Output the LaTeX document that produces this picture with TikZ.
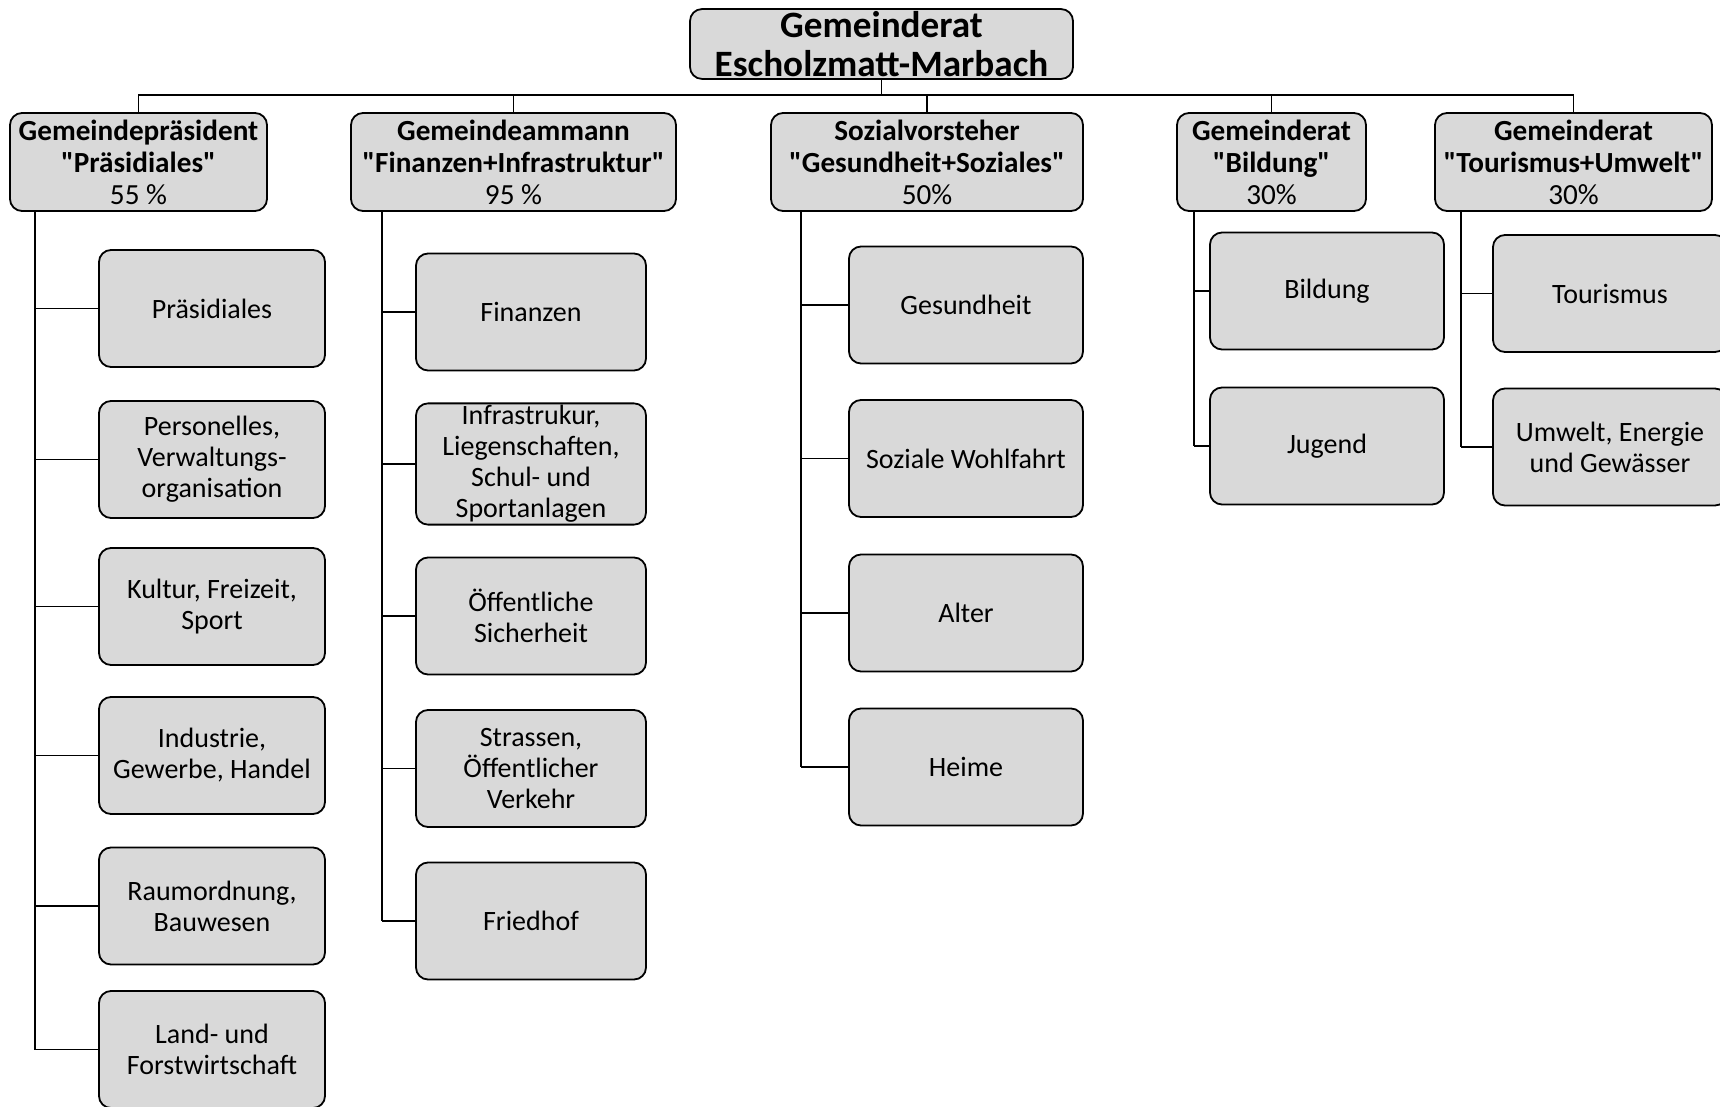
\documentclass[tikz,border=0pt]{standalone}
\usepackage{fontspec}
\setmainfont{Carlito}[Ligatures=TeXOff]
\usepackage{xcolor}
\usetikzlibrary{positioning}
\definecolor{boxgray}{HTML}{D9D9D9}

\begin{document}
\begin{tikzpicture}[
x=0.5pt, y=-0.5pt,
box/.style={draw, fill=boxgray, rounded corners=6pt, align=center, line width=0.9pt, inner sep=1pt, font=\fontsize{14}{15.5}\selectfont},
sub/.style={box, minimum width=#1, minimum height=58.5pt},
head/.style={box, minimum height=49pt, font=\fontsize{14.6}{16}\selectfont\bfseries},
root/.style={box, minimum width=191.5pt, minimum height=34pt, font=\fontsize{18.6}{19.75}\selectfont\bfseries},
conn/.style={line width=0.8pt}
]
\useasboundingbox (0,0) rectangle (1720,1107);

% Gemeinderat
\node[root] (gr) at (881.5,44) {Gemeinderat\\Escholzmatt-Marbach};
\coordinate (bar) at (0,95);

% Ressorts
\node[head, minimum width=128.5pt] (p) at (138.5,162) {Gemeindepräsident\\"Präsidiales"\\{\mdseries 55 \%}};
\node[head, minimum width=162.5pt] (a) at (513.5,162) {Gemeindeammann\\"Finanzen+Infrastruktur"\\{\mdseries 95 \%}};
\node[head, minimum width=156pt] (s) at (927,162) {Sozialvorsteher\\"Gesundheit+Soziales"\\{\mdseries 50\%}};
\node[head, minimum width=94.5pt] (b) at (1271.5,162) {Gemeinderat\\"Bildung"\\{\mdseries 30\%}};
\node[head, minimum width=138.5pt] (t) at (1573.5,162) {Gemeinderat\\"Tourismus+Umwelt"\\{\mdseries 30\%}};

\draw[conn] (gr.south) -- (gr.south |- bar);
\draw[conn] (p.north) -- (p.north |- bar) -- (t.north |- bar) -- (t.north);
\foreach \h in {a,s,b} \draw[conn] (\h.north) -- (\h.north |- bar);

% Präsidiales
\node[sub=113pt] (p1) at (212,308.5) {Präsidiales};
\node[sub=113pt] (p2) at (212,459.5) {Personelles,\\Verwaltungs-\\organisation};
\node[sub=113pt] (p3) at (212,606.5) {Kultur, Freizeit,\\Sport};
\node[sub=113pt] (p4) at (212,755.5) {Industrie,\\Gewerbe, Handel};
\node[sub=113pt] (p5) at (212,906) {Raumordnung,\\Bauwesen};
\node[sub=113pt] (p6) at (212,1049.5) {Land- und\\Forstwirtschaft};

% Finanzen+Infrastruktur
\node[sub=115pt] (a1) at (531,312) {Finanzen};
\node[sub=115pt] (a2) at (531,464) {Infrastrukur,\\Liegenschaften,\\Schul- und\\Sportanlagen};
\node[sub=115pt] (a3) at (531,616) {Öffentliche\\Sicherheit};
\node[sub=115pt] (a4) at (531,768.5) {Strassen,\\Öffentlicher\\Verkehr};
\node[sub=115pt] (a5) at (531,921) {Friedhof};

% Gesundheit+Soziales
\node[sub=117pt] (s1) at (966,305) {Gesundheit};
\node[sub=117pt] (s2) at (966,458.5) {Soziale Wohlfahrt};
\node[sub=117pt] (s3) at (966,613) {Alter};
\node[sub=117pt] (s4) at (966,767) {Heime};

% Bildung
\node[sub=117pt] (b1) at (1327,291) {Bildung};
\node[sub=117pt] (b2) at (1327,446) {Jugend};

% Tourismus+Umwelt
\node[sub=117pt] (t1) at (1610,293.5) {Tourismus};
\node[sub=117pt] (t2) at (1610,447) {Umwelt, Energie\\und Gewässer};

% Linien
\coordinate (pv) at ([xshift=13pt]p.south west);
\coordinate (av) at ([xshift=16pt]a.south west);
\coordinate (sv) at ([xshift=15.5pt]s.south west);
\coordinate (bv) at ([xshift=9pt]b.south west);
\coordinate (tv) at ([xshift=13.5pt]t.south west);
\draw[conn] (pv) -- (pv |- p6.west);
\draw[conn] (av) -- (av |- a5.west);
\draw[conn] (sv) -- (sv |- s4.west);
\draw[conn] (bv) -- (bv |- b2.west);
\draw[conn] (tv) -- (tv |- t2.west);
\foreach \c in {p1,p2,p3,p4,p5,p6} \draw[conn] (pv |- \c.west) -- (\c.west);
\foreach \c in {a1,a2,a3,a4,a5} \draw[conn] (av |- \c.west) -- (\c.west);
\foreach \c in {s1,s2,s3,s4} \draw[conn] (sv |- \c.west) -- (\c.west);
\foreach \c in {b1,b2} \draw[conn] (bv |- \c.west) -- (\c.west);
\foreach \c in {t1,t2} \draw[conn] (tv |- \c.west) -- (\c.west);
\end{tikzpicture}
\end{document}
